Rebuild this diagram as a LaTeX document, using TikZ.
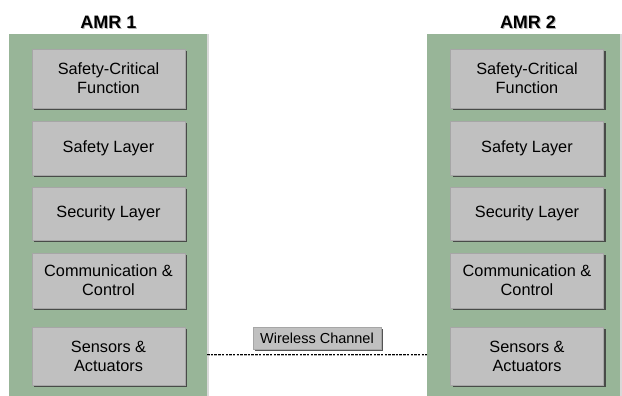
\documentclass[tikz,border=0pt]{standalone}
\usepackage{fontspec}
\setmainfont{Liberation Sans}
\usetikzlibrary{shadows}
\definecolor{panelgreen}{RGB}{152,181,152}
\definecolor{boxgray}{RGB}{192,192,192}
\tikzset{
  panel/.style={fill=panelgreen, draw=none, drop shadow={shadow xshift=1.5pt, shadow yshift=0pt, fill=black!25, opacity=0.6}},
  layerbox/.style={fill=boxgray, draw=gray!70, line width=0.3pt, minimum width=153pt, align=center,
    font=\fontsize{16.3}{19}\selectfont, inner sep=0pt,
    drop shadow={shadow xshift=2pt, shadow yshift=-2pt, fill=black!75, opacity=0.9}},
  title/.style={font=\fontsize{18}{21}\bfseries\selectfont},
  titleshadow/.style={title, text=black!30},
  chanbox/.style={fill=boxgray, draw=gray!70, line width=0.3pt, minimum width=128pt, minimum height=22pt,
    inner sep=0pt, font=\fontsize{14.5}{17}\selectfont,
    drop shadow={shadow xshift=2pt, shadow yshift=-2pt, fill=black!75, opacity=0.9}},
  link/.style={dashed, dash pattern=on 2.5pt off 1.2pt, line width=0.8pt, black}
}
\begin{document}
\begin{tikzpicture}[x=1pt,y=-1pt]
\useasboundingbox (0,0) rectangle (622,396);
% panels
\path[panel] (9,34) rectangle (207,396);
\path[panel] (427,34) rectangle (620,396);
\node[titleshadow] (t1s) at (109.5,23) {AMR 1};
\node[titleshadow] (t2s) at (529,23) {AMR 2};
\node[title] (t1) at (108.5,22) {AMR 1};
\node[title] (t2) at (528,22) {AMR 2};
% left boxes
\node[layerbox, minimum height=59pt] (a1) at (108.5,78.5) {Safety-Critical\\Function};
\node[layerbox, minimum height=54pt] (a2) at (108.5,148) {Safety Layer};
\node[layerbox, minimum height=53pt] (a3) at (108.5,213.5) {Security Layer};
\node[layerbox, minimum height=55pt] (a4) at (108.5,280.5) {Communication \&\\Control};
\node[layerbox, minimum height=58pt] (a5) at (108.5,356) {Sensors \&\\Actuators};
% right boxes
\node[layerbox, minimum height=59pt] (b1) at (527,78.5) {Safety-Critical\\Function};
\node[layerbox, minimum height=54pt] (b2) at (527,148) {Safety Layer};
\node[layerbox, minimum height=53pt] (b3) at (527,213.5) {Security Layer};
\node[layerbox, minimum height=55pt] (b4) at (527,280.5) {Communication \&\\Control};
\node[layerbox, minimum height=58pt] (b5) at (527,356) {Sensors \&\\Actuators};
% channel
\coordinate (l) at (207,354);
\coordinate (r) at (427,354);
\draw[link, gray!60] ([yshift=-1.5pt]l) -- ([yshift=-1.5pt]r);
\draw[link] (l) -- (r);
\node[chanbox] (ch) at (317,338) {Wireless Channel};
\end{tikzpicture}
\end{document}
